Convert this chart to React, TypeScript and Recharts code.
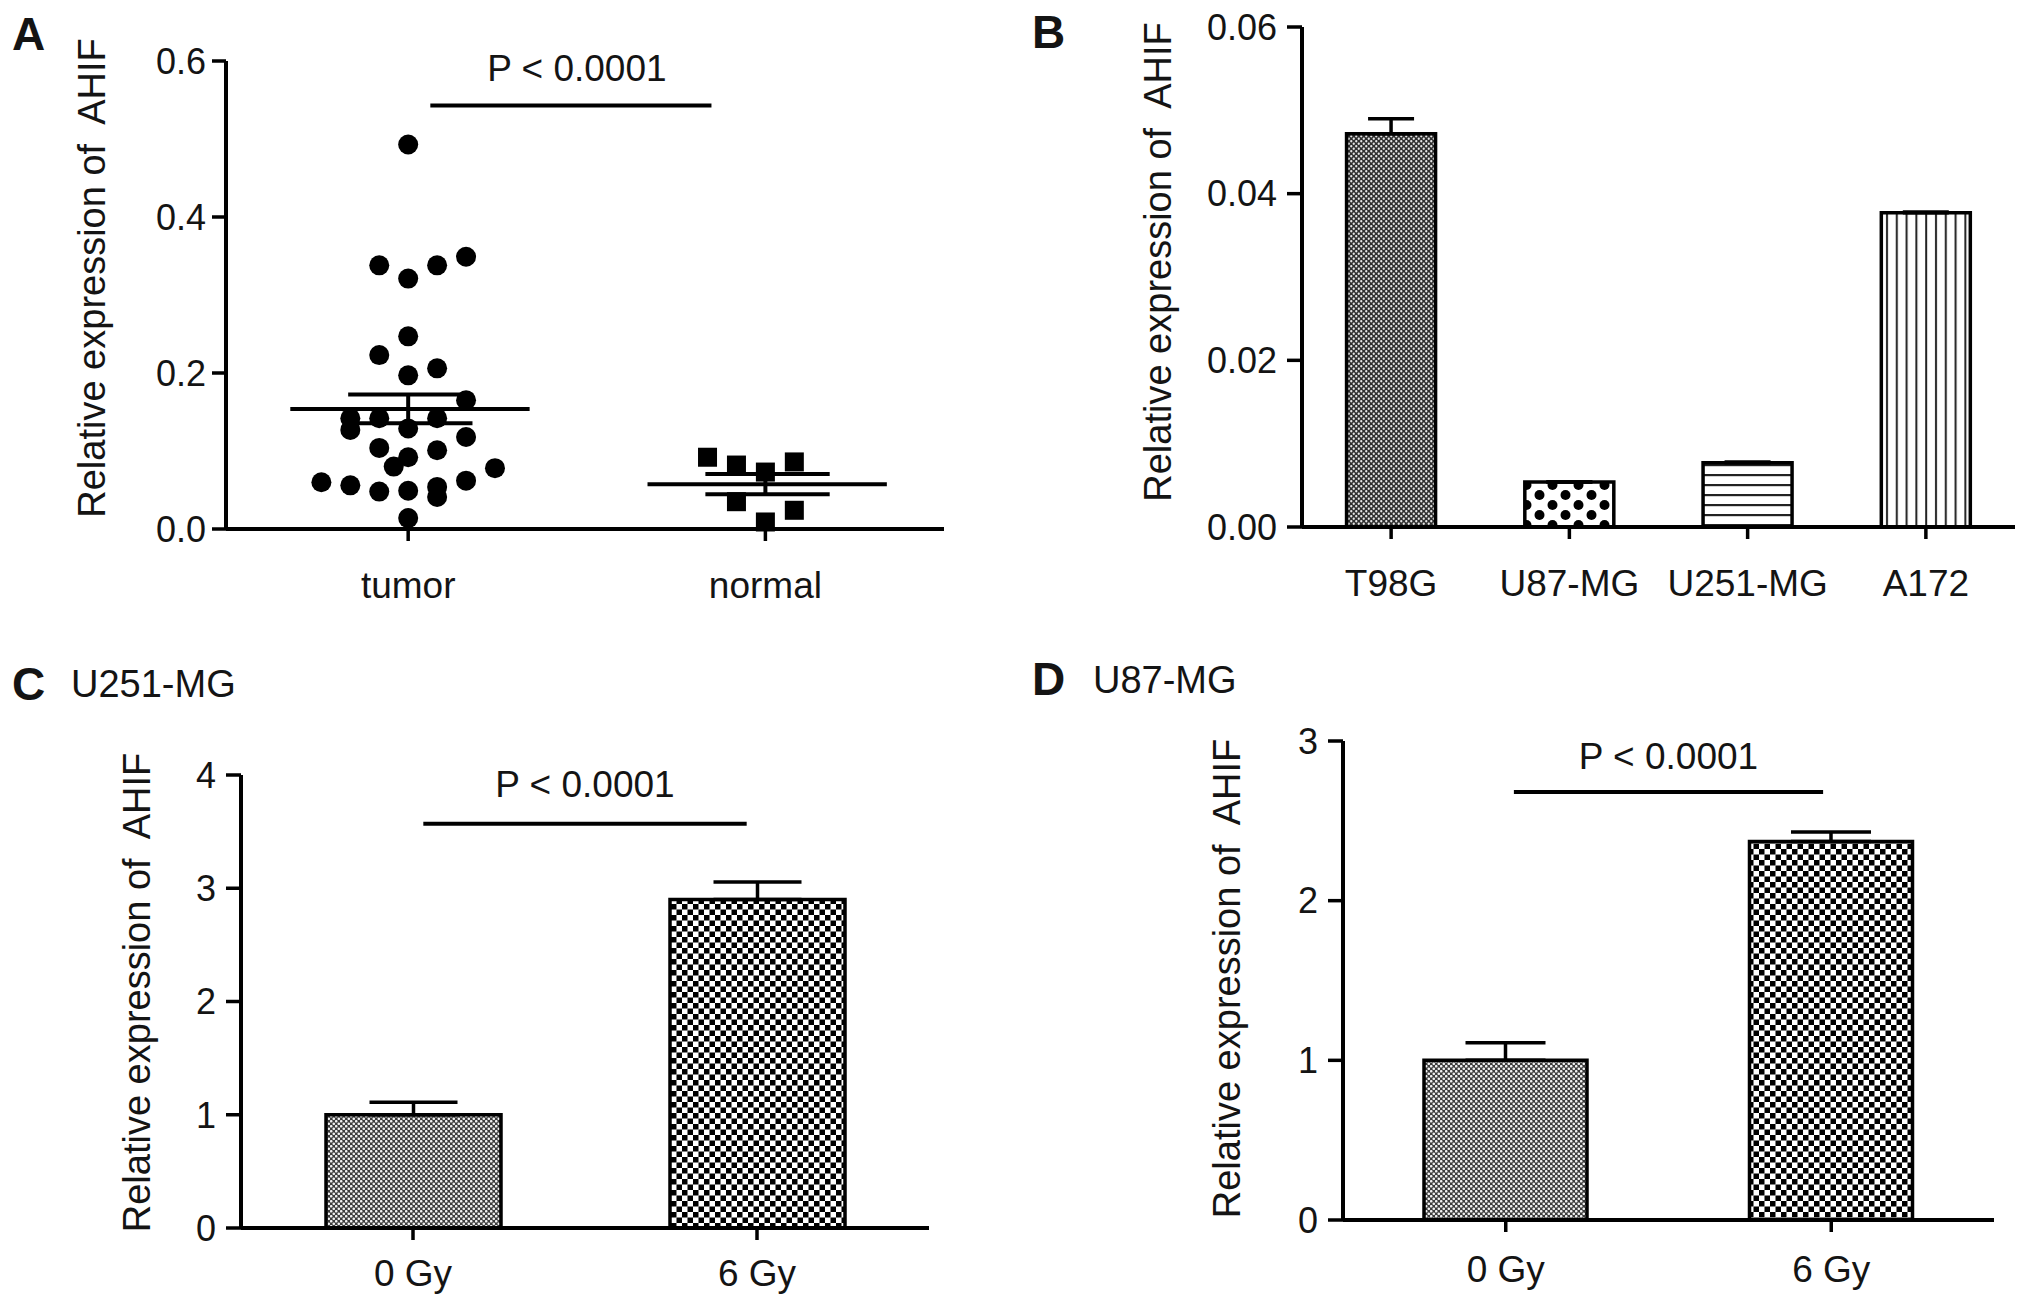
import React from 'react'
import { ScatterChart, Scatter, BarChart, Bar, Cell, XAxis, YAxis, ReferenceLine, ErrorBar } from 'recharts'

// ---- panel A: tumor vs normal dot plot ----
const groupNames = ['tumor', 'normal']
const tumorValues = [0.493, 0.338, 0.321, 0.338, 0.349, 0.247, 0.223, 0.206, 0.197, 0.165, 0.142, 0.127, 0.142, 0.129, 0.142, 0.118, 0.104, 0.101, 0.092, 0.08, 0.078, 0.06, 0.056, 0.048, 0.049, 0.054, 0.041, 0.062, 0.014]
// column slot of each dot inside the scatter cloud (GraphPad style spreading)
const tumorSlots = [0, -1, 0, 1, 2, 0, -1, 1, 0, 2, -2, -2, -1, 0, 1, 2, -1, 1, 0, -0.5, 3, -3, -2, -1, 0, 1, 1, 2, 0]
const normalValues = [0.092, 0.082, 0.035, 0.073, 0.086, 0.024, 0.009]
const normalSlots = [-2, -1, -1, 0, 1, 1, 0]
const groupMeans = [0.154, 0.0575]
const groupSems = [0.0185, 0.013]
const ticksA = [0, 0.2, 0.4, 0.6]
const sigA = 0.543

// ---- panel B: cell lines ----
const cellLines = ['T98G', 'U87-MG', 'U251-MG', 'A172']
const cellMeans = [0.0472, 0.0054, 0.0077, 0.0377]
const cellSems = [0.0018, 0, 0.0001, 0.0001]
const ticksB = [0, 0.02, 0.04, 0.06]

// ---- panels C, D: irradiation ----
const doses = ['0 Gy', '6 Gy']
const u251Means = [1.0, 2.9]
const u251Sems = [0.11, 0.155]
const ticksC = [0, 1, 2, 3, 4]
const sigC = 3.57
const u87Means = [1.0, 2.37]
const u87Sems = [0.11, 0.06]
const ticksD = [0, 1, 2, 3]
const sigD = 2.68

const FONT = '"Liberation Sans", Arial, Helvetica, sans-serif'
const INK = '#141414'
const slotStep = 0.081
const pText = 'P < 0.0001'

const axisTitle = (gap: number, shift: number) => (props: any) => {
    const vb = props.viewBox || { x: 0, y: 0, width: 0, height: 0 }
    const cx = vb.x + vb.width - gap
    const cy = vb.y + vb.height / 2 + shift
    return (
        <text x={cx} y={cy} transform={`rotate(-90 ${cx} ${cy})`} textAnchor="middle" dominantBaseline="central"
            fontSize={38} fill={INK} style={{ whiteSpace: 'pre' }}>
            {'Relative expression of  AHIF'}
        </text>
    )
}

const tumorPoints = tumorValues.map((v, i) => ({ x: 1 + tumorSlots[i] * slotStep, y: v }))
const normalPoints = normalValues.map((v, i) => ({ x: 2 + normalSlots[i] * slotStep, y: v }))

const dotShape = (p: any) => <circle cx={p.cx} cy={p.cy} r={10} fill="#000" />
const squareShape = (p: any) => <rect x={p.cx - 9.5} y={p.cy - 9.5} width={19} height={19} fill="#000" />

const lineStyle = { stroke: '#000', strokeWidth: 4 }
const tickLineStyle = { stroke: '#000', strokeWidth: 3.5 }

function Patterns() {
    return (
        <svg width={0} height={0} style={{ position: 'absolute', left: 0, top: 0 }}>
            <defs>
                <pattern id="fineDark" width={5} height={5} patternUnits="userSpaceOnUse">
                    <rect width={5} height={5} fill="#2e2e2e" />
                    <circle cx={1.25} cy={1.25} r={1.15} fill="#e6e6e6" />
                    <circle cx={3.75} cy={3.75} r={1.15} fill="#e6e6e6" />
                </pattern>
                <pattern id="fineLight" width={5} height={5} patternUnits="userSpaceOnUse">
                    <rect width={5} height={5} fill="#3c3c3c" />
                    <circle cx={1.25} cy={1.25} r={1.3} fill="#f2f2f2" />
                    <circle cx={3.75} cy={3.75} r={1.3} fill="#f2f2f2" />
                </pattern>
                <pattern id="bigDots" width={26} height={20} patternUnits="userSpaceOnUse">
                    <rect width={26} height={20} fill="#fff" />
                    <circle cx={6.5} cy={5} r={5} fill="#000" />
                    <circle cx={19.5} cy={15} r={5} fill="#000" />
                </pattern>
                <pattern id="hLines" width={10} height={10} patternUnits="userSpaceOnUse">
                    <rect width={10} height={10} fill="#fff" />
                    <rect y={4} width={10} height={2.2} fill="#222" />
                </pattern>
                <pattern id="vLines" width={9.8} height={10} patternUnits="userSpaceOnUse">
                    <rect width={9.8} height={10} fill="#fff" />
                    <rect x={4} width={2} height={10} fill="#222" />
                </pattern>
                <pattern id="checker" width={11} height={11} patternUnits="userSpaceOnUse">
                    <rect width={11} height={11} fill="#fff" />
                    <rect width={5.5} height={5.5} fill="#000" />
                    <rect x={5.5} y={5.5} width={5.5} height={5.5} fill="#000" />
                </pattern>
            </defs>
        </svg>
    )
}

function DotPanel() {
    return (
        <div style={{ position: 'absolute', left: 0, top: 0 }}>
            <ScatterChart width={1000} height={640} margin={{ top: 61, right: 56, bottom: 0, left: 0 }}>
                <XAxis type="number" dataKey="x" domain={[0.49, 2.5]} ticks={[1, 2]} allowDataOverflow
                    tickFormatter={(v: number) => groupNames[v - 1]} height={111} tickSize={12} tickMargin={31}
                    axisLine={lineStyle} tickLine={tickLineStyle} tick={{ fontSize: 37, fill: INK }} />
                <YAxis type="number" dataKey="y" domain={[0, 0.6]} ticks={ticksA} width={226} tickSize={14} tickMargin={6}
                    tickFormatter={(v: number) => v.toFixed(1)} axisLine={lineStyle} tickLine={tickLineStyle}
                    tick={{ fontSize: 36, fill: INK }} label={axisTitle(134, -17)} />
                <Scatter data={tumorPoints} shape={dotShape} isAnimationActive={false} />
                <Scatter data={normalPoints} shape={squareShape} isAnimationActive={false} />
                {groupMeans.map((m, i) => (
                    <ReferenceLine key={'m' + i} ifOverflow="visible" {...lineStyle}
                        segment={[{ x: i + 1 - 0.33, y: m }, { x: i + 1 + 0.34, y: m }]} />
                ))}
                {groupMeans.map((m, i) => (
                    <ReferenceLine key={'su' + i} ifOverflow="visible" {...lineStyle}
                        segment={[{ x: i + 1 - 0.168, y: m + groupSems[i] }, { x: i + 1 + 0.18, y: m + groupSems[i] }]} />
                ))}
                {groupMeans.map((m, i) => (
                    <ReferenceLine key={'sl' + i} ifOverflow="visible" {...lineStyle}
                        segment={[{ x: i + 1 - 0.168, y: m - groupSems[i] }, { x: i + 1 + 0.18, y: m - groupSems[i] }]} />
                ))}
                {groupMeans.map((m, i) => (
                    <ReferenceLine key={'sv' + i} ifOverflow="visible" {...lineStyle}
                        segment={[{ x: i + 1, y: m - groupSems[i] }, { x: i + 1, y: m + groupSems[i] }]} />
                ))}
                <ReferenceLine ifOverflow="visible" {...lineStyle} segment={[{ x: 1.062, y: sigA }, { x: 1.849, y: sigA }]}
                    label={{ value: pText, position: 'top', offset: 24, fontSize: 37, fill: INK, dx: 6 }} />
            </ScatterChart>
        </div>
    )
}

function CellLinePanel() {
    const rows = cellLines.map((name, i) => ({ name, value: cellMeans[i], err: [0, cellSems[i]] }))
    const fills = ['url(#fineDark)', 'url(#bigDots)', 'url(#hLines)', 'url(#vLines)']
    return (
        <div style={{ position: 'absolute', left: 1000, top: 0 }}>
            <BarChart width={1031} height={640} data={rows} barCategoryGap="25%"
                margin={{ top: 27, right: 16, bottom: 0, left: 0 }}>
                <XAxis dataKey="name" height={113} tickSize={12} tickMargin={31}
                    axisLine={lineStyle} tickLine={tickLineStyle} tick={{ fontSize: 37, fill: INK }} />
                <YAxis domain={[0, 0.06]} ticks={ticksB} width={302} tickSize={15} tickMargin={10}
                    tickFormatter={(v: number) => v.toFixed(2)} axisLine={lineStyle} tickLine={tickLineStyle}
                    tick={{ fontSize: 36, fill: INK }} label={axisTitle(144, -15)} />
                <Bar dataKey="value" stroke="#000" strokeWidth={3.5} isAnimationActive={false}>
                    {rows.map((r, i) => <Cell key={r.name} fill={fills[i]} />)}
                    <ErrorBar dataKey="err" width={23} stroke="#000" strokeWidth={3.5} direction="y" />
                </Bar>
            </BarChart>
        </div>
    )
}

interface DosePanelProps {
    left: number
    top: number
    marginTop: number
    marginRight: number
    yWidth: number
    xHeight: number
    means: number[]
    sems: number[]
    ticks: number[]
    tickMargin: number
    barSize: number
    capHalf: number
    titleGap: number
    titleShift: number
    sig: number
    sigInset: number
    sigOffset: number
}

function DosePanel(p: DosePanelProps) {
    const rows = doses.map((name, i) => ({ pos: i, value: p.means[i], err: [0, p.sems[i]] }))
    const fills = ['url(#fineLight)', 'url(#checker)']
    return (
        <div style={{ position: 'absolute', left: p.left, top: p.top }}>
            <BarChart width={p.left === 0 ? 1000 : 1031} height={665} data={rows}
                margin={{ top: p.marginTop, right: p.marginRight, bottom: 0, left: 0 }}>
                <XAxis type="number" dataKey="pos" domain={[-0.5, 1.5]} ticks={[0, 1]} allowDataOverflow
                    tickFormatter={(v: number) => doses[v]} height={p.xHeight} tickSize={12} tickMargin={p.tickMargin}
                    axisLine={lineStyle} tickLine={tickLineStyle} tick={{ fontSize: 37, fill: INK }} />
                <YAxis domain={[0, p.ticks[p.ticks.length - 1]]} ticks={p.ticks} width={p.yWidth} tickSize={15} tickMargin={10}
                    axisLine={lineStyle} tickLine={tickLineStyle}
                    tick={{ fontSize: 36, fill: INK }} label={axisTitle(p.titleGap, p.titleShift)} />
                <Bar dataKey="value" barSize={p.barSize} stroke="#000" strokeWidth={3.5} isAnimationActive={false}>
                    {rows.map((r, i) => <Cell key={r.pos} fill={fills[i]} />)}
                    <ErrorBar dataKey="err" width={p.capHalf} stroke="#000" strokeWidth={3.5} direction="y" />
                </Bar>
                <ReferenceLine ifOverflow="visible" {...lineStyle}
                    segment={[{ x: p.sigInset, y: p.sig }, { x: 1 - p.sigInset, y: p.sig }]}
                    label={{ value: pText, position: 'top', offset: p.sigOffset, fontSize: 37, fill: INK }} />
            </BarChart>
        </div>
    )
}

export default function App() {
    return (
        <div style={{ position: 'absolute', left: 0, top: 0, width: 2031, height: 1305, background: '#fff', fontFamily: FONT, overflow: 'hidden' }}>
            <Patterns />
            <DotPanel />
            <CellLinePanel />
            <DosePanel left={0} top={640} marginTop={135} marginRight={71} yWidth={241} xHeight={77}
                means={u251Means} sems={u251Sems} ticks={ticksC} tickMargin={20} barSize={175} capHalf={44}
                titleGap={104} titleShift={-9} sig={sigC} sigInset={0.03} sigOffset={27} />
            <DosePanel left={1000} top={640} marginTop={101} marginRight={37} yWidth={343} xHeight={85}
                means={u87Means} sems={u87Sems} ticks={ticksD} tickMargin={24} barSize={163} capHalf={40}
                titleGap={116} titleShift={-2} sig={sigD} sigInset={0.025} sigOffset={23} />
            <svg width={2031} height={1305} style={{ position: 'absolute', left: 0, top: 0, pointerEvents: 'none' }}>
                <g fill={INK} fontWeight="bold" fontSize={46}>
                    <text x={12} y={50}>A</text>
                    <text x={1032} y={48}>B</text>
                    <text x={12} y={700}>C</text>
                    <text x={1032} y={695}>D</text>
                </g>
                <g fill={INK} fontSize={38}>
                    <text x={71} y={697}>U251-MG</text>
                    <text x={1093} y={693}>U87-MG</text>
                </g>
            </svg>
        </div>
    )
}
